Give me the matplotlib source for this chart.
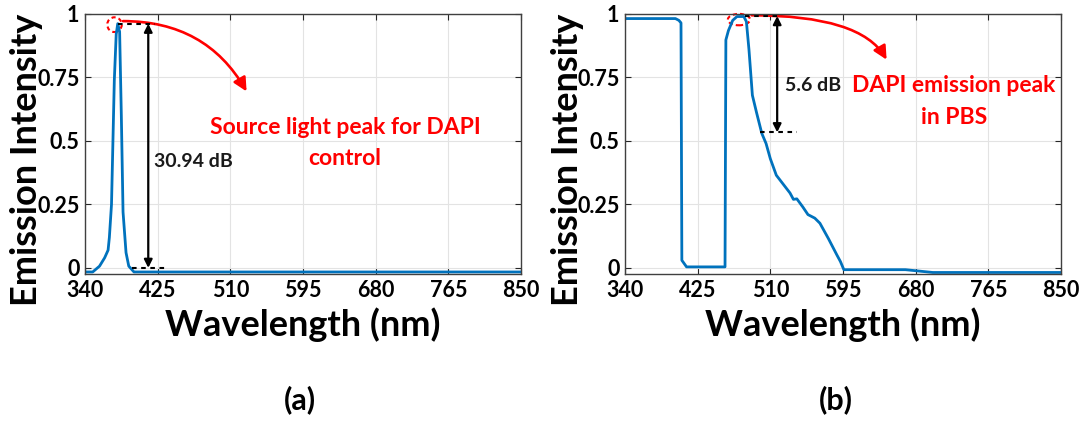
import matplotlib
matplotlib.use("Agg")
import matplotlib.pyplot as plt
from matplotlib.patches import Ellipse, FancyArrowPatch

plt.rcParams["font.family"] = ["Lato", "DejaVu Sans"]
plt.rcParams["font.weight"] = "bold"

# panel (a): source light, DAPI control
wl_a = [340, 349, 357, 363, 367, 368.5, 371, 374.3, 376.5, 378.3, 380.5, 382.5, 384.5, 388, 391.2, 397.3, 850]
em_a = [-0.016, -0.016, 0.007, 0.04, 0.07, 0.12, 0.25, 0.74, 0.92, 0.962, 0.93, 0.6, 0.22, 0.06, 0.007, -0.016, -0.016]

# panel (b): DAPI emission in PBS
wl_b = [340, 399, 403, 405.5, 406.5, 412, 457, 458, 461, 466, 471, 479, 482, 485, 489, 494, 500,
        505, 510, 517, 525, 533, 537, 541, 548, 554, 562, 568, 578, 588, 592, 596, 668, 700, 850]
em_b = [0.982, 0.982, 0.975, 0.965, 0.03, 0.004, 0.004, 0.898, 0.935, 0.975, 0.99, 0.99, 0.97, 0.86,
        0.68, 0.61, 0.53, 0.49, 0.43, 0.365, 0.33, 0.295, 0.27, 0.272, 0.24, 0.21, 0.196, 0.176,
        0.115, 0.05, 0.025, -0.007, -0.007, -0.018, -0.018]

xticks = [340, 425, 510, 595, 680, 765, 850]
yticks = [0, 0.25, 0.5, 0.75, 1]
ytick_labels = ["0", "0.25", "0.5", "0.75", "1"]

BLUE = "#0072BD"
RED = "#FF0000"

fig = plt.figure(figsize=(10.84, 4.23), dpi=100)
W, H = 1084.0, 423.0


def make_axes(left_px, right_px, top_px=14, bottom_px=274):
    ax = fig.add_axes([left_px / W, 1 - bottom_px / H, (right_px - left_px) / W, (bottom_px - top_px) / H])
    ax.set_xlim(340, 850)
    ax.set_ylim(-0.024, 1.0)
    ax.set_xticks(xticks)
    ax.set_yticks(yticks)
    ax.set_yticklabels(ytick_labels)
    ax.grid(True, color="#e3e3e3", linewidth=0.8)
    ax.set_axisbelow(True)
    ax.tick_params(direction="in", length=4, width=0.8, labelsize=15.5, pad=4, colors="#262626",
                   labelcolor="black", top=True, right=True)
    for s in ax.spines.values():
        s.set_color("#404040")
        s.set_linewidth(1.0)
    for lab in ax.get_xticklabels() + ax.get_yticklabels():
        lab.set_fontweight("bold")
    return ax


def dashed(ax, x0, x1, y):
    ax.plot([x0, x1], [y, y], color="black", linestyle=(0, (2.2, 2.2)), linewidth=1.5, clip_on=False)


def double_arrow(ax, x, y0, y1):
    ax.annotate("", xy=(x, y1), xytext=(x, y0),
                arrowprops=dict(arrowstyle="<|-|>", color="black", lw=1.6,
                                mutation_scale=12, shrinkA=0, shrinkB=0))


def red_arc(ax, start, end):
    arr = FancyArrowPatch(start, end, connectionstyle="angle3,angleA=0,angleB=-60",
                          arrowstyle="-|>", mutation_scale=20, color=RED, lw=1.9,
                          shrinkA=0, shrinkB=0, clip_on=False)
    ax.add_patch(arr)


def red_note(ax, x, ys, lines):
    for y, s in zip(ys, lines):
        ax.text(x, y, s, fontsize=16.5, fontweight="bold", color=RED, ha="center", va="center")


# ---- (a)
ax1 = make_axes(85, 521)
ax1.plot(wl_a, em_a, color=BLUE, linewidth=2)
dashed(ax1, 379, 422, 0.962)
dashed(ax1, 394.5, 437, 0.0)
double_arrow(ax1, 414, 0.0, 0.962)
ax1.add_patch(Ellipse((374.5, 0.958), 17, 0.058, fill=False, edgecolor=RED, linestyle=(0, (2, 1.5)),
                      linewidth=1.5, clip_on=False))
red_arc(ax1, (384.5, 0.972), (529, 0.695))
ax1.text(421, 0.418, "30.94 dB", fontsize=14, fontweight="bold", color="#1a1a1a", ha="left", va="center")
red_note(ax1, 644, [0.553, 0.431], ["Source light peak for DAPI", "control"])

# ---- (b)
ax2 = make_axes(625, 1061)
ax2.plot(wl_b, em_b, color=BLUE, linewidth=2)
dashed(ax2, 480, 523, 0.992)
dashed(ax2, 498, 541, 0.534)
double_arrow(ax2, 518, 0.534, 0.992)
ax2.add_patch(Ellipse((473.3, 0.978), 26, 0.045, fill=False, edgecolor=RED, linestyle=(0, (2, 1.5)),
                      linewidth=1.5, clip_on=False))
red_arc(ax2, (488, 0.995), (646, 0.82))
ax2.text(527, 0.717, "5.6 dB", fontsize=14, fontweight="bold", color="#1a1a1a", ha="left", va="center")
red_note(ax2, 725, [0.72, 0.594], ["DAPI emission peak", "in PBS"])

# big labels
for cx_ax, cx_y in [((85 + 521) / 2, 27), ((625 + 1061) / 2, 567)]:
    fig.text(cx_y / W, 1 - 160 / H, "Emission Intensity", rotation=90, fontsize=26, fontweight="bold",
             ha="center", va="center")
    fig.text(cx_ax / W, 1 - 325 / H, "Wavelength (nm)", fontsize=26, fontweight="bold",
             ha="center", va="center")

fig.text(300 / W, 1 - 400 / H, "(a)", fontsize=22, fontweight="bold", ha="center", va="center")
fig.text(836 / W, 1 - 400 / H, "(b)", fontsize=22, fontweight="bold", ha="center", va="center")

fig.savefig("out.png", dpi=100)
